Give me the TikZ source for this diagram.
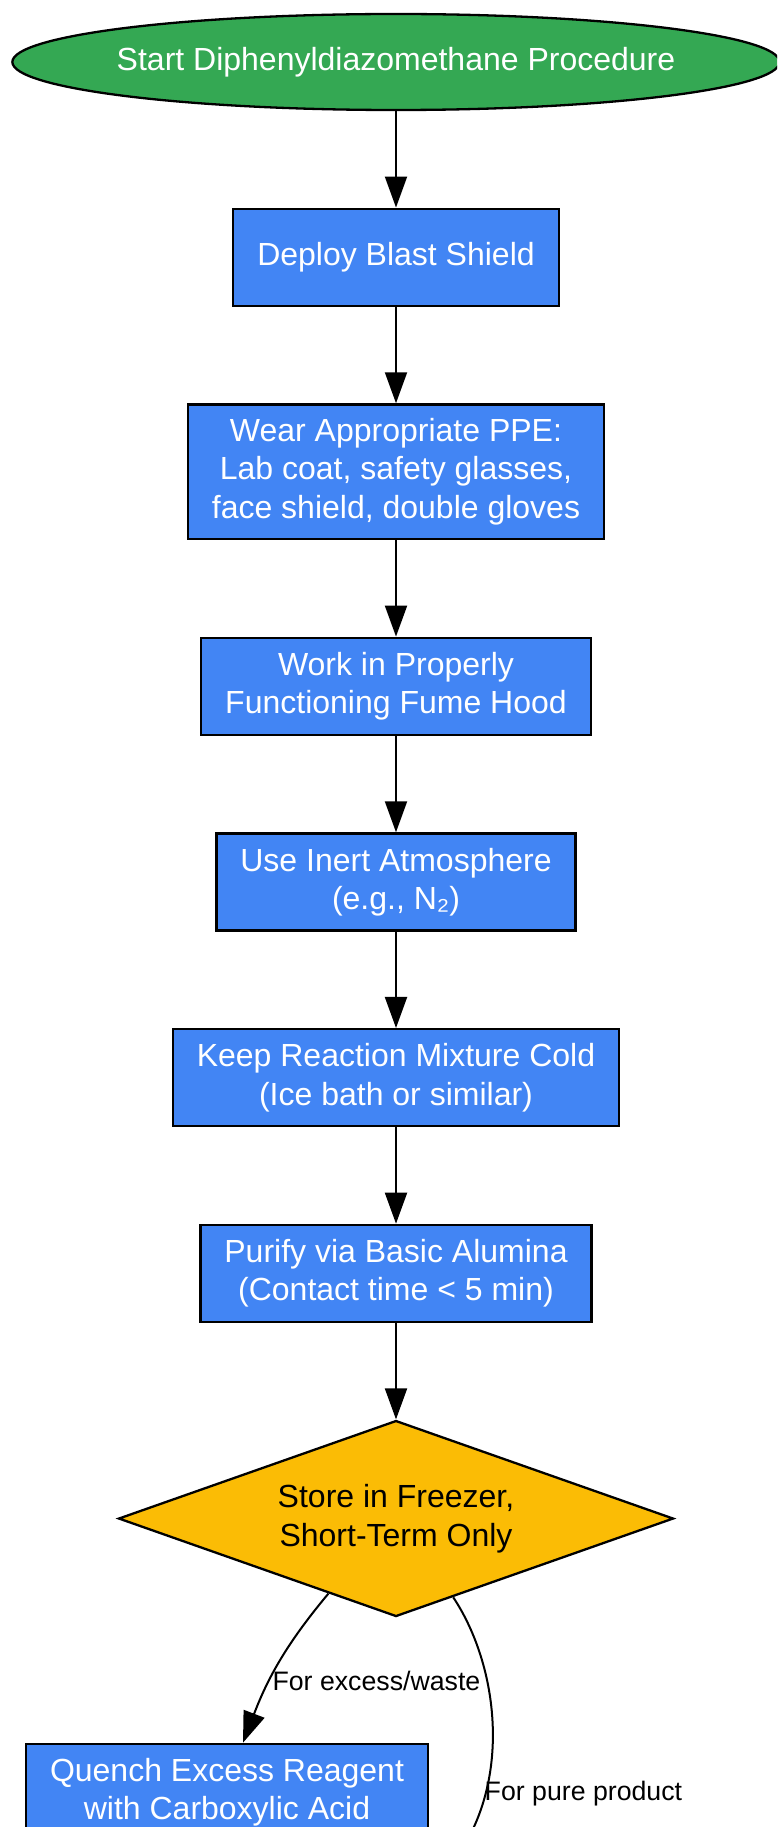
\documentclass[tikz,border=0pt]{standalone}
\usepackage{fontspec}
\setmainfont{Liberation Sans}
\usetikzlibrary{shapes.geometric, positioning, arrows.meta}
\definecolor{startgreen}{HTML}{34A853}
\definecolor{stepblue}{HTML}{4285F4}
\definecolor{storeyellow}{HTML}{FBBC05}
\tikzset{
x=1pt, y=1pt,
>={Triangle[length=31pt, width=22pt]}, % filled arrow heads
node distance=96.4pt, % gap between two boxes
every edge/.style={draw, ->, line width=2pt},
startnode/.style={ellipse, draw, line width=2.3pt, fill=startgreen, text=white, inner xsep=-8pt, minimum height=96pt, font=\fontsize{32}{38.4}\selectfont},
stepbox/.style={rectangle, draw, line width=2.3pt, fill=stepblue, text=white, align=center, inner xsep=24pt, inner ysep=14pt, minimum height=97pt, font=\fontsize{32}{38.4}\selectfont},
decision/.style={diamond, draw, line width=2.3pt, fill=storeyellow, align=center, inner sep=0pt, shape aspect=2.83, minimum width=555pt, minimum height=196pt, font=\fontsize{32}{38.4}\selectfont},
edgelabel/.style={font=\fontsize{26.7}{32}\selectfont, inner sep=2pt},
}
\begin{document}
\begin{tikzpicture}
    \useasboundingbox (0,0) rectangle (777,-1827);
    \clip (0,0) rectangle (777,-1827);
    \node[startnode] (start) at (396,-62) {Start Diphenyldiazomethane Procedure};
    \node[stepbox, below=of start] (shield) {Deploy Blast Shield};
    \node[stepbox, below=of shield] (ppe) {Wear Appropriate PPE:\\Lab coat, safety glasses,\\face shield, double gloves};
    \node[stepbox, below=of ppe] (hood) {Work in Properly\\Functioning Fume Hood};
    \node[stepbox, below=of hood] (inert) {Use Inert Atmosphere\\(e.g., N₂)};
    \node[stepbox, below=of inert] (cold) {Keep Reaction Mixture Cold\\(Ice bath or similar)};
    \node[stepbox, below=of cold] (purify) {Purify via Basic Alumina\\(Contact time < 5 min)};
    \node[decision, below=of purify] (store) {Store in Freezer,\\Short-Term Only};
    \node[stepbox, below=125pt of store, xshift=-169pt] (quench) {Quench Excess Reagent\\with Carboxylic Acid};
    \coordinate (pure) at (450,-1870); % next step lies below the page
    \draw (start) edge (shield)
    (shield) edge (ppe)
    (ppe) edge (hood)
    (hood) edge (inert)
    (inert) edge (cold)
    (cold) edge (purify)
    (purify) edge (store)
    (store.-132) edge[out=-130, in=69] node[edgelabel, pos=0.62, right] {For excess/waste} ([xshift=16pt]quench.north);
    \draw[->, line width=2pt] (store.-54) .. controls (495,-1660) and (511,-1765) .. node[edgelabel, pos=0.755, right] {For pure product} (pure);
\end{tikzpicture}
\end{document}
